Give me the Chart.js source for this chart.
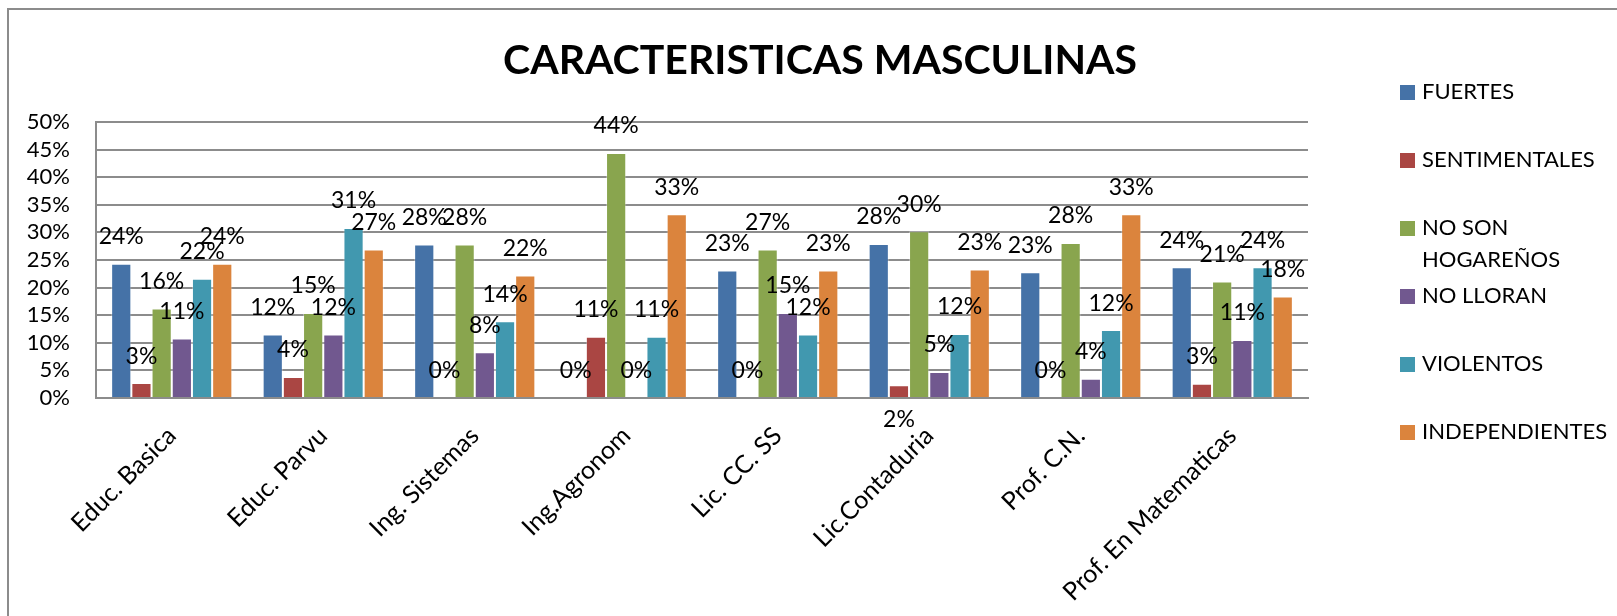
<!DOCTYPE html>
<html>
<head>
<meta charset="utf-8">
<script src="https://cdn.jsdelivr.net/npm/chart.js@4.4.0/dist/chart.umd.min.js"></script>
<style>
  html, body { margin: 0; padding: 0; background: #fff; }
</style>
</head>
<body>
<canvas id="barChart" width="1617" height="616"></canvas>
<script>
// Data (percent values)
const categories = ['Educ. Basica', 'Educ. Parvu', 'Ing. Sistemas', 'Ing.Agronom',
  'Lic. CC. SS', 'Lic.Contaduria', 'Prof. C.N.', 'Prof. En Matematicas'];
const seriesNames = ['FUERTES', 'SENTIMENTALES', 'NO SON HOGAREÑOS', 'NO LLORAN', 'VIOLENTOS', 'INDEPENDIENTES'];
const fuertes       = [24.3, 11.5, 27.8, 0,    23.1, 27.9, 22.8, 23.7];
const sentimentales = [2.7,  3.8,  0,    11.1, 0,    2.3,  0,    2.6];
const noSonHogarenos= [16.2, 15.4, 27.8, 44.4, 26.9, 30.2, 28.1, 21.1];
const noLloran      = [10.8, 11.5, 8.3,  0,    15.4, 4.7,  3.5,  10.5];
const violentos     = [21.6, 30.8, 13.9, 11.1, 11.5, 11.6, 12.3, 23.7];
const independientes= [24.3, 26.9, 22.2, 33.3, 23.1, 23.3, 33.3, 18.4];
const yTicks = [0, 5, 10, 15, 20, 25, 30, 35, 40, 45, 50];

const colors = ['#4572A7', '#AA4643', '#89A54E', '#71588F', '#4198AF', '#DB843D'];
const FONT = 'Lato';
const GRID = '#8c8c8c';

// data labels above bars
const barLabels = {
  id: 'barLabels',
  afterDatasetsDraw(chart) {
    const ctx = chart.ctx;
    ctx.save();
    ctx.font = '23px ' + FONT;
    ctx.fillStyle = '#000';
    ctx.textAlign = 'center';
    ctx.textBaseline = 'middle';
    chart.data.datasets.forEach((ds, i) => {
      chart.getDatasetMeta(i).data.forEach((bar, j) => {
        let y = bar.y - 27;
        // this one sits under the axis in the original
        if (i === 1 && j === 5) y = chart.chartArea.bottom + 22;
        ctx.fillText(Math.round(ds.data[j]) + '%', bar.x, y);
      });
    });
    ctx.restore();
  }
};

// frame, title and legend
const decor = {
  id: 'decor',
  beforeDraw(chart) {
    const ctx = chart.ctx;
    ctx.save();
    ctx.strokeStyle = GRID;
    ctx.lineWidth = 2;
    ctx.beginPath();
    ctx.moveTo(8, 616);
    ctx.lineTo(8, 9);
    ctx.lineTo(1617, 9);
    ctx.stroke();
    ctx.restore();
  },
  afterDraw(chart) {
    const ctx = chart.ctx;
    ctx.save();
    ctx.fillStyle = '#000';
    ctx.font = 'bold 41px ' + FONT;
    ctx.textAlign = 'center';
    ctx.textBaseline = 'middle';
    ctx.fillText('CARACTERISTICAS MASCULINAS', 820, 61);

    ctx.font = '22px ' + FONT;
    ctx.textAlign = 'left';
    let y = 92;
    chart.data.datasets.forEach((ds, i) => {
      ctx.fillStyle = ds.backgroundColor;
      ctx.fillRect(1400, y - 7, 15, 15);
      ctx.fillStyle = '#000';
      // wrap long names
      const words = ds.label.split(' ');
      let lines = [], cur = '';
      words.forEach(w => {
        const t = cur ? cur + ' ' + w : w;
        if (cur && ctx.measureText(t).width > 185) { lines.push(cur); cur = w; } else cur = t;
      });
      lines.push(cur);
      lines.forEach((ln, k) => ctx.fillText(ln, 1422, y + k * 32));
      y += 68;
    });
    ctx.restore();
  }
};

const ctx = document.getElementById('barChart').getContext('2d');
const barChart = new Chart(ctx, {
  type: 'bar',
  data: {
    labels: categories,
    datasets: [fuertes, sentimentales, noSonHogarenos, noLloran, violentos, independientes].map((d, i) => ({
      label: seriesNames[i],
      data: d,
      backgroundColor: colors[i],
      borderColor: 'rgba(255,255,255,0.35)',
      borderWidth: 1,
      barPercentage: 1.0,
      categoryPercentage: 0.8
    }))
  },
  options: {
    responsive: false,
    animation: false,
    devicePixelRatio: 1,
    layout: { padding: { top: 122, right: 309, bottom: 0, left: 0 } },
    plugins: {
      legend: { display: false },
      title: { display: false },
      tooltip: { enabled: false }
    },
    scales: {
      x: {
        grid: { display: false, drawTicks: false },
        border: { display: true, color: GRID, width: 2 },
        ticks: {
          font: { family: FONT, size: 25 },
          color: '#000',
          minRotation: 45,
          maxRotation: 45,
          autoSkip: false,
          padding: 23
        },
        afterFit: a => { a.height = 218; }
      },
      y: {
        min: 0,
        max: 50,
        afterBuildTicks: a => { a.ticks = yTicks.map(v => ({ value: v })); },
        grid: { color: GRID, lineWidth: 2, drawTicks: false },
        border: { display: true, color: GRID, width: 2 },
        ticks: {
          font: { family: FONT, size: 22 },
          color: '#000',
          padding: 26,
          autoSkip: false,
          callback: v => v + '%'
        },
        afterFit: a => { a.width = 96; }
      }
    }
  },
  plugins: [barLabels, decor]
});
</script>
</body>
</html>
